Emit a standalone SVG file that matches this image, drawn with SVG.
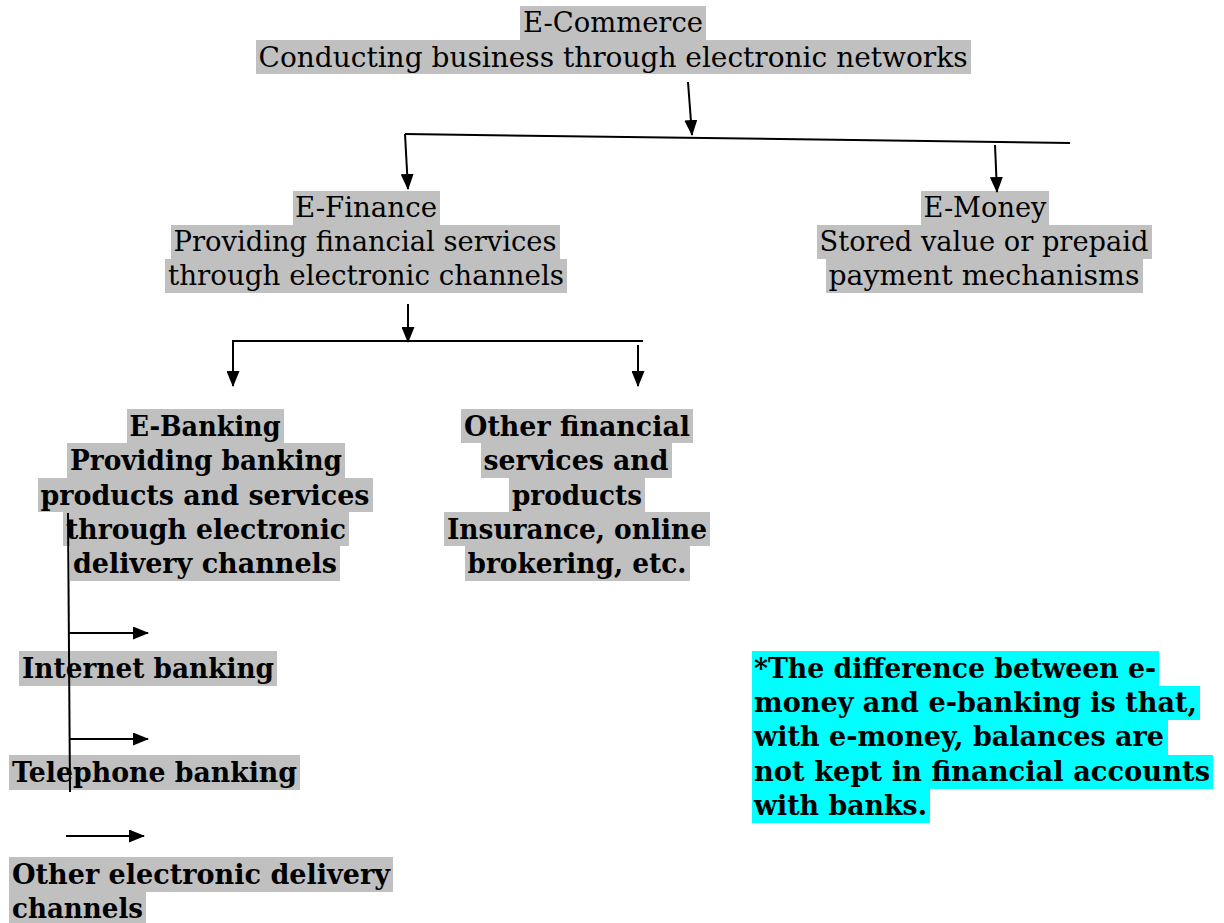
<svg xmlns="http://www.w3.org/2000/svg" width="1224" height="923" viewBox="0 0 1224 923">
<style>
.t{font-family:"DejaVu Serif","Liberation Serif",serif;font-size:28px;fill:#000}
.b{font-weight:bold}
.hl{fill:#c0c0c0}
.cy{fill:#00ffff}
.ln{stroke:#000;stroke-width:2;fill:none}
</style>
<defs>
<marker id="ah" markerWidth="16" markerHeight="13" refX="15" refY="6.5" orient="auto" markerUnits="userSpaceOnUse">
<path d="M0,0 L16,6.5 L0,13 Z" fill="#000"/>
</marker>
</defs>
<rect width="1224" height="923" fill="#fff"/>
<g id="ecommerce">
<rect class="hl" x="520" y="6" width="186" height="34"/>
<rect class="hl" x="256" y="40" width="715" height="34"/>
<text class="t" x="613" y="32" text-anchor="middle" textLength="180" lengthAdjust="spacingAndGlyphs">E-Commerce</text>
<text class="t" x="613" y="67" text-anchor="middle" textLength="709" lengthAdjust="spacingAndGlyphs">Conducting business through electronic networks</text>
</g>
<g id="efinance">
<rect class="hl" x="293" y="191" width="147" height="34"/>
<rect class="hl" x="171" y="225" width="389" height="34"/>
<rect class="hl" x="165" y="259" width="402" height="34"/>
<text class="t" x="366" y="217" text-anchor="middle" textLength="142" lengthAdjust="spacingAndGlyphs">E-Finance</text>
<text class="t" x="365" y="251" text-anchor="middle" textLength="383" lengthAdjust="spacingAndGlyphs">Providing financial services</text>
<text class="t" x="366" y="285" text-anchor="middle" textLength="396" lengthAdjust="spacingAndGlyphs">through electronic channels</text>
</g>
<g id="emoney">
<rect class="hl" x="921" y="191" width="128" height="34"/>
<rect class="hl" x="817" y="225" width="335" height="34"/>
<rect class="hl" x="826" y="259" width="317" height="34"/>
<text class="t" x="985" y="217" text-anchor="middle" textLength="123" lengthAdjust="spacingAndGlyphs">E-Money</text>
<text class="t" x="984" y="251" text-anchor="middle" textLength="329" lengthAdjust="spacingAndGlyphs">Stored value or prepaid</text>
<text class="t" x="984" y="285" text-anchor="middle" textLength="311" lengthAdjust="spacingAndGlyphs">payment mechanisms</text>
</g>
<g id="ebanking">
<rect class="hl" x="127" y="409" width="157" height="34"/>
<rect class="hl" x="67" y="443" width="278" height="35"/>
<rect class="hl" x="38" y="478" width="335" height="34"/>
<rect class="hl" x="63" y="512" width="286" height="34"/>
<rect class="hl" x="70" y="546" width="270" height="35"/>
<text class="t b" x="205" y="436" text-anchor="middle" textLength="151" lengthAdjust="spacingAndGlyphs">E-Banking</text>
<text class="t b" x="206" y="470" text-anchor="middle" textLength="272" lengthAdjust="spacingAndGlyphs">Providing banking</text>
<text class="t b" x="205" y="505" text-anchor="middle" textLength="329" lengthAdjust="spacingAndGlyphs">products and services</text>
<text class="t b" x="206" y="539" text-anchor="middle" textLength="280" lengthAdjust="spacingAndGlyphs">through electronic</text>
<text class="t b" x="205" y="573" text-anchor="middle" textLength="264" lengthAdjust="spacingAndGlyphs">delivery channels</text>
</g>
<g id="otherfin">
<rect class="hl" x="461" y="409" width="232" height="34"/>
<rect class="hl" x="481" y="443" width="191" height="35"/>
<rect class="hl" x="509" y="478" width="136" height="34"/>
<rect class="hl" x="444" y="512" width="266" height="34"/>
<rect class="hl" x="465" y="546" width="225" height="35"/>
<text class="t b" x="577" y="436" text-anchor="middle" textLength="226" lengthAdjust="spacingAndGlyphs">Other financial</text>
<text class="t b" x="576" y="470" text-anchor="middle" textLength="185" lengthAdjust="spacingAndGlyphs">services and</text>
<text class="t b" x="577" y="505" text-anchor="middle" textLength="130" lengthAdjust="spacingAndGlyphs">products</text>
<text class="t b" x="577" y="539" text-anchor="middle" textLength="260" lengthAdjust="spacingAndGlyphs">Insurance, online</text>
<text class="t b" x="577" y="573" text-anchor="middle" textLength="219" lengthAdjust="spacingAndGlyphs">brokering, etc.</text>
</g>
<g id="internet">
<rect class="hl" x="19" y="651" width="258" height="35"/>
<text class="t b" x="22" y="678" textLength="252" lengthAdjust="spacingAndGlyphs">Internet banking</text>
</g>
<g id="telephone">
<rect class="hl" x="9" y="755" width="291" height="35"/>
<text class="t b" x="12" y="782" textLength="285" lengthAdjust="spacingAndGlyphs">Telephone banking</text>
</g>
<g id="otherelec">
<rect class="hl" x="9" y="857" width="384" height="35"/>
<rect class="hl" x="9" y="892" width="137" height="31"/>
<text class="t b" x="12" y="884" textLength="378" lengthAdjust="spacingAndGlyphs">Other electronic delivery</text>
<text class="t b" x="12" y="918" textLength="131" lengthAdjust="spacingAndGlyphs">channels</text>
</g>
<g id="note">
<rect class="cy" x="752" y="651" width="407" height="35"/>
<rect class="cy" x="752" y="686" width="448" height="34"/>
<rect class="cy" x="752" y="720" width="416" height="35"/>
<rect class="cy" x="752" y="755" width="461" height="34"/>
<rect class="cy" x="752" y="789" width="178" height="34"/>
<text class="t b" x="754" y="678" textLength="402" lengthAdjust="spacingAndGlyphs">*The difference between e-</text>
<text class="t b" x="754" y="712" textLength="443" lengthAdjust="spacingAndGlyphs">money and e-banking is that,</text>
<text class="t b" x="754" y="746" textLength="410" lengthAdjust="spacingAndGlyphs">with e-money, balances are</text>
<text class="t b" x="754" y="781" textLength="456" lengthAdjust="spacingAndGlyphs">not kept in financial accounts</text>
<text class="t b" x="754" y="815" textLength="173" lengthAdjust="spacingAndGlyphs">with banks.</text>
</g>
<g id="connectors">
<line class="ln" x1="688" y1="82" x2="692" y2="135" marker-end="url(#ah)"/>
<line class="ln" x1="405" y1="134" x2="1070" y2="143"/>
<line class="ln" x1="405" y1="134" x2="408" y2="189" marker-end="url(#ah)"/>
<line class="ln" x1="995" y1="145" x2="997" y2="192" marker-end="url(#ah)"/>
<line class="ln" x1="408" y1="304" x2="408" y2="342" marker-end="url(#ah)"/>
<polyline class="ln" points="233,356 233,341 643,341"/>
<line class="ln" x1="233" y1="341" x2="233" y2="386" marker-end="url(#ah)"/>
<line class="ln" x1="638" y1="345" x2="638" y2="386" marker-end="url(#ah)"/>
<line class="ln" x1="68" y1="513" x2="70" y2="792"/>
<line class="ln" x1="69" y1="633" x2="148" y2="633" marker-end="url(#ah)"/>
<line class="ln" x1="70" y1="739" x2="148" y2="739" marker-end="url(#ah)"/>
<line class="ln" x1="66" y1="836" x2="144" y2="836" marker-end="url(#ah)"/>
</g>
</svg>
